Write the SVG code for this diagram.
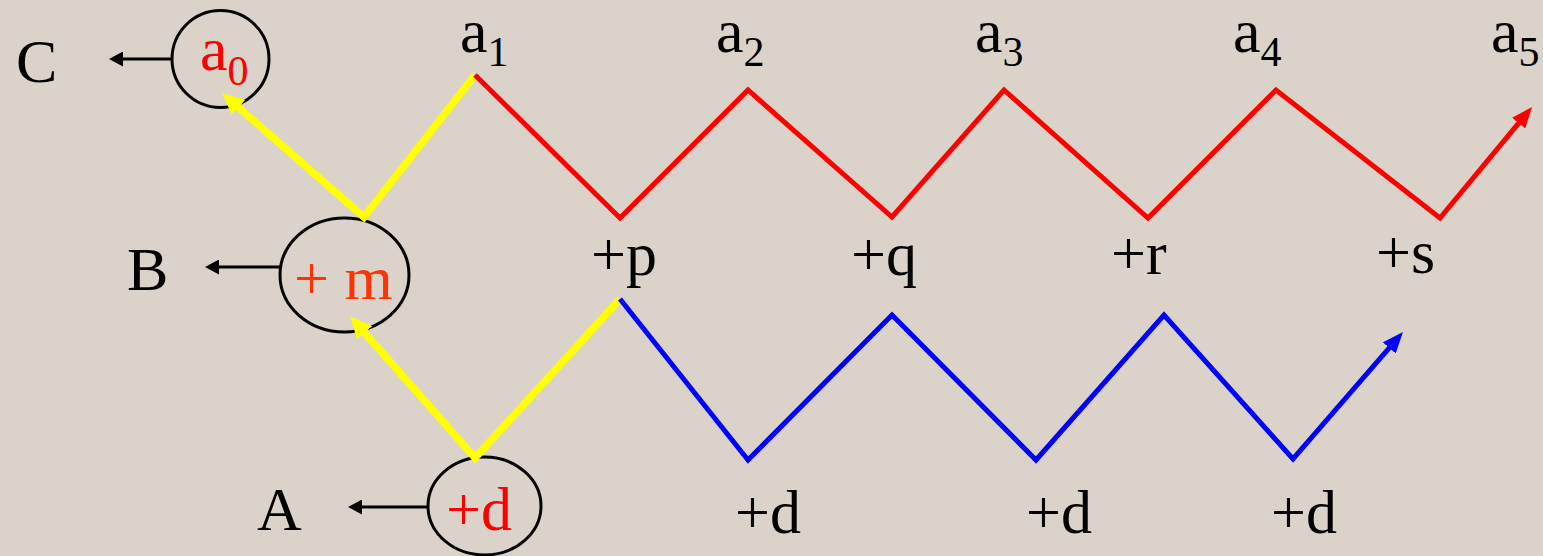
<svg xmlns="http://www.w3.org/2000/svg" width="1543" height="556" viewBox="0 0 1543 556">
<style>
text{font-family:"Liberation Serif","Times New Roman",serif;font-size:62px;fill:#000}
.red{fill:#FF0000}
.orange{fill:#FF3300}
.sub{font-size:42px}
.ring{fill:none;stroke:#000;stroke-width:3}
.blk{fill:none;stroke:#000;stroke-width:3}
.yl{fill:none;stroke:#FFFF00;stroke-width:7.5;stroke-linejoin:miter}
.rd{fill:none;stroke:#FF0000;stroke-width:5;stroke-linejoin:miter}
.bl{fill:none;stroke:#0000FF;stroke-width:5;stroke-linejoin:miter}
</style>
<defs>
<marker id="hb" markerUnits="userSpaceOnUse" markerWidth="14" markerHeight="15" refX="8" refY="7.5" orient="auto"><path d="M0,0 L14,7.5 L0,15 z" fill="#000"/></marker>
<marker id="hy" markerUnits="userSpaceOnUse" markerWidth="22" markerHeight="20" refX="13" refY="10" orient="auto"><path d="M0,0 L22,10 L0,20 z" fill="#FFFF00"/></marker>
<marker id="hr" markerUnits="userSpaceOnUse" markerWidth="21" markerHeight="17" refX="12" refY="8.5" orient="auto"><path d="M0,0 L21,8.5 L0,17 z" fill="#FF0000"/></marker>
<marker id="hbl" markerUnits="userSpaceOnUse" markerWidth="21" markerHeight="17" refX="12" refY="8.5" orient="auto"><path d="M0,0 L21,8.5 L0,17 z" fill="#0000FF"/></marker>
</defs>
<rect width="1543" height="556" fill="#DBD3CA"/>
<g id="node-C"><text x="16" y="82">C</text></g>
<g id="node-a0"><circle class="ring" cx="220.5" cy="59" r="48.5"/><text class="red" x="200" y="70">a<tspan class="sub" dy="15">0</tspan></text></g>
<g id="node-B"><text x="127" y="290">B</text></g>
<g id="node-m"><ellipse class="ring" cx="344.5" cy="275" rx="64.5" ry="57"/><text class="orange" x="294" y="299">+ m</text></g>
<g id="node-A"><text x="257" y="530">A</text></g>
<g id="node-d"><ellipse class="ring" cx="484.5" cy="506" rx="56.5" ry="49"/><text class="red" x="446" y="530">+d</text></g>
<g id="labels-top">
<text x="460" y="52">a<tspan class="sub" dy="14">1</tspan></text>
<text x="716" y="52">a<tspan class="sub" dy="14">2</tspan></text>
<text x="975" y="52">a<tspan class="sub" dy="14">3</tspan></text>
<text x="1233" y="52">a<tspan class="sub" dy="14">4</tspan></text>
<text x="1491" y="52">a<tspan class="sub" dy="14">5</tspan></text>
</g>
<g id="labels-mid">
<text x="591" y="275">+p</text>
<text x="851" y="275">+q</text>
<text x="1111" y="274">+r</text>
<text x="1376" y="273">+s</text>
</g>
<g id="labels-bottom">
<text x="735" y="533">+d</text>
<text x="1026" y="533">+d</text>
<text x="1271" y="533">+d</text>
</g>
<g id="connectors">
<line class="blk" x1="172" y1="59" x2="115" y2="59" marker-end="url(#hb)"/>
<line class="blk" x1="280" y1="267" x2="211" y2="267" marker-end="url(#hb)"/>
<line class="blk" x1="428" y1="507" x2="354" y2="507" marker-end="url(#hb)"/>
<polyline class="yl" points="475,75 364,217 228.8,98.9" marker-end="url(#hy)"/>
<polyline class="yl" points="620,299 475,458 356,323" marker-end="url(#hy)"/>
<polyline class="rd" points="475,75 620,218 748,90 892,217 1004,90 1148,218 1276,90 1440,218 1526.3,113.9" marker-end="url(#hr)"/>
<polyline class="bl" points="620,299 748,460 892,315 1036,460 1164,315 1293,459 1397.1,338.8" marker-end="url(#hbl)"/>
</g>
</svg>
